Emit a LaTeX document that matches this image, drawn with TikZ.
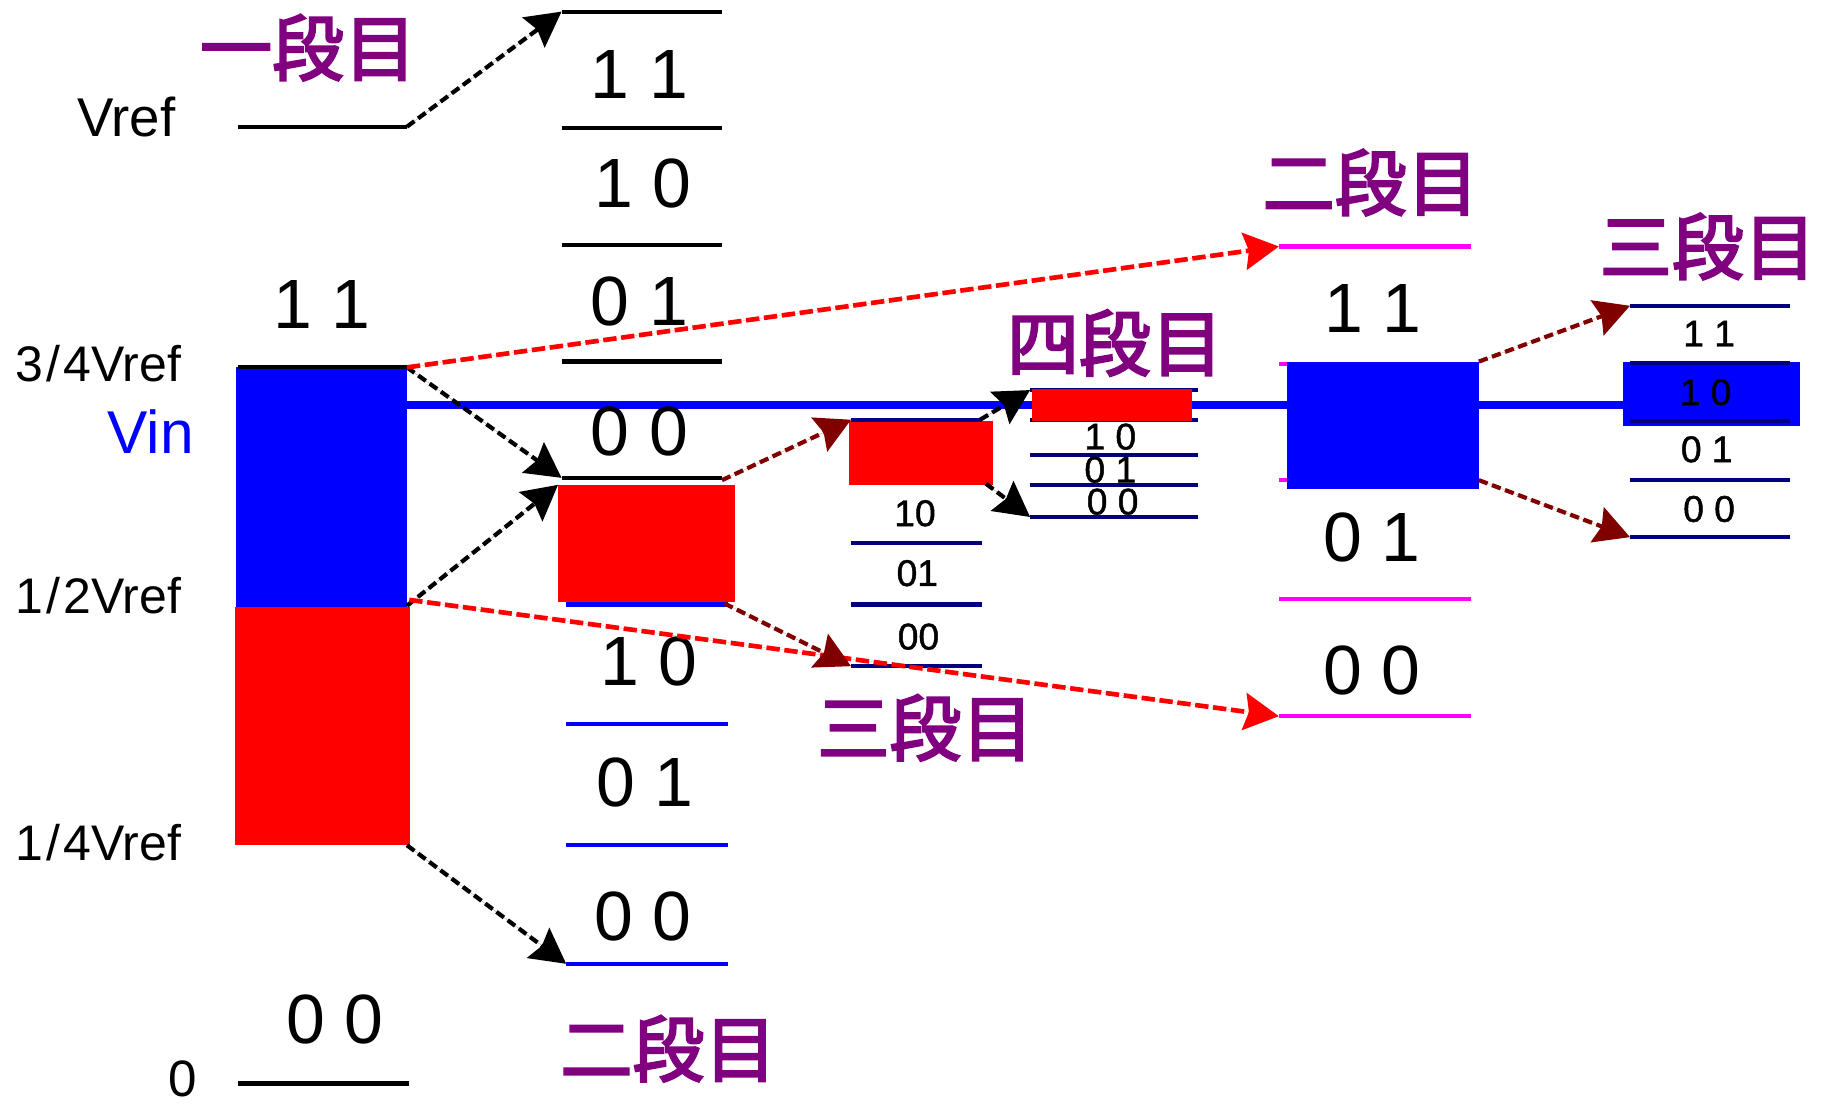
\documentclass[tikz,border=0pt]{standalone}
\usepackage{fontspec}
\setmainfont{Liberation Sans}
\newfontfamily\cjk[FakeBold=3]{Noto Sans CJK JP}
\newfontfamily\digitfont[FakeBold=1.2]{Liberation Sans}
\usetikzlibrary{arrows.meta}

\definecolor{vblue}{RGB}{0,0,255}
\definecolor{vred}{RGB}{255,0,0}
\definecolor{darkarrow}{RGB}{128,0,0}
\definecolor{navyline}{RGB}{0,0,128}
\definecolor{magline}{RGB}{255,0,255}
\definecolor{stagepurple}{RGB}{128,0,128}

\tikzset{
  lvl/.style={line width=3.6pt},
  blk/.style={lvl, draw=black},
  nav/.style={lvl, draw=navyline},
  mag/.style={lvl, draw=magline},
  blu/.style={lvl, draw=vblue},
  box/.style={draw=none, inner sep=0pt, outer sep=0pt, anchor=north west},
  bluebox/.style={box, fill=vblue},
  redbox/.style={box, fill=vred},
  conn/.style={line width=3.6pt, dash pattern=on 8pt off 4pt,
    -{Stealth[length=30pt, width=32pt, inset=4pt]}},
  kconn/.style={conn, draw=black, fill=black},
  rconn/.style={conn, line width=4pt, dash pattern=on 11.5pt off 4pt, draw=vred, fill=vred},
  mconn/.style={conn, draw=darkarrow, fill=darkarrow},
  big/.style={inner sep=0pt, font=\fontsize{60}{60}\selectfont},
  mid/.style={inner sep=0pt, font=\fontsize{44}{44}\selectfont},
  small/.style={inner sep=0pt, font=\digitfont\fontsize{32}{32}\selectfont},
  stage/.style={inner sep=0pt, text=stagepurple, font=\cjk\fontsize{62}{62}\selectfont},
}

\begin{document}
\begin{tikzpicture}[x=1pt, y=-1pt]
\useasboundingbox (0,0) rectangle (1568,950);
\fill[white] (0,0) rectangle (1568,950);

% ---- input voltage line (behind everything) ----
\coordinate (vinS) at (350,348);
\coordinate (vinE) at (1398,348);
\draw[vblue, line width=6.8pt] (vinS) -- (vinE);

% ---- stage-four levels and stage-two (right) levels, under their boxes ----
\foreach \y/\n in {335.5/a, 361/b, 391.4/c, 417/d, 444.7/e}
  \draw[nav] (886,\y) coordinate (d\n L) -- (1030,\y) coordinate (d\n R);
\foreach \y/\n in {212/a, 313/b, 413/c, 515/d, 616/e}
  \draw[mag] (1100,\y) coordinate (e\n L) -- (1265,\y) coordinate (e\n R);

% ---- boxes ----
\node[bluebox, minimum width=147pt, minimum height=206pt] (c1b) at (203,316) {};
\node[redbox,  minimum width=151pt, minimum height=205pt] (c1r) at (202,522) {};
\node[redbox,  minimum width=152pt, minimum height=101pt] (c2r) at (480,417) {};
\node[redbox,  minimum width=124pt, minimum height=55pt]  (c3r) at (730,362) {};
\node[redbox,  minimum width=137pt, minimum height=27pt]  (c4r) at (888,335) {};
\node[bluebox, minimum width=165pt, minimum height=110pt] (c5b) at (1107,311) {};
\node[bluebox, minimum width=152pt, minimum height=55pt]  (c6b) at (1396,311) {};

% ---- stage-one levels ----
\draw[blk] (205,109) coordinate (vrefL) -- (350,109) coordinate (vrefR);
\draw[blk] (205,316) coordinate (tqL) -- (350,316) coordinate (tqR);
\draw[blk] (205,932) coordinate (zeroL) -- (352,932) coordinate (zeroR);

% ---- first column of two-bit levels ----
\foreach \y/\n in {10/a, 110/b, 211/c, 311/d, 411/e}
  \draw[blk] (483,\y) coordinate (b\n L) -- (621,\y) coordinate (b\n R);
\foreach \y/\n in {520/f, 623/g, 727/h, 829/i}
  \draw[blu] (487,\y) coordinate (b\n L) -- (626,\y) coordinate (b\n R);

% ---- stage-three levels ----
\foreach \y/\n in {361/a, 467/b, 520/c, 573/d}
  \draw[nav] (732,\y) coordinate (c\n L) -- (845,\y) coordinate (c\n R);

% ---- last stage levels, over the box ----
\foreach \y/\n in {263/a, 312.5/b, 362/c, 413/d, 462/e}
  \draw[nav] (1402,\y) coordinate (f\n L) -- (1540,\y) coordinate (f\n R);

% ---- left labels ----
\newcommand\slashsep{\kern2.5pt/\kern2.5pt}
\node[mid, anchor=base east, font=\fontsize{47}{47}\selectfont] (tVref) at (151,117.6) {Vref};
\node[mid, anchor=base east, font=\fontsize{43}{43}\selectfont] (t34) at (156,328) {3\slashsep 4Vref};
\node[mid, anchor=base east, text=vblue, font=\fontsize{52}{52}\selectfont] (tVin) at (167,390) {Vin};
\node[mid, anchor=base east, font=\fontsize{43}{43}\selectfont] (t12) at (156,528) {1\slashsep 2Vref};
\node[mid, anchor=base east, font=\fontsize{43}{43}\selectfont] (t14) at (156,740) {1\slashsep 4Vref};
\node[mid, anchor=base east] (t0) at (170,943) {0};

\node[big] (l1a) at (277,262) {1 1};
\node[big] (l1b) at (288,877) {0 0};

\node[big] (l2a) at (550,64) {1 1};
\node[big] (l2b) at (553,158) {1 0};
\node[big] (l2c) at (550,259) {0 1};
\node[big] (l2d) at (550,371) {0 0};
\node[big] (l2e) at (558,569) {1 0};
\node[big] (l2f) at (555,673) {0 1};
\node[big] (l2g) at (553,788) {0 0};

\node[small] (l3a) at (787,441.5) {10};
\node[small] (l3b) at (789,493) {01};
\node[small] (l3c) at (790,547.6) {00};

\node[small] (l4a) at (955,375.6) {1 0};
\node[small] (l4b) at (955,404) {0 1};
\node[small] (l4c) at (957,431.5) {0 0};

\node[big] (l5a) at (1181,265) {1 1};
\node[big] (l5b) at (1180,462) {0 1};
\node[big] (l5c) at (1180,577) {0 0};

\node[small] (l6a) at (1470,287) {1 1};
\node[small] (l6b) at (1467,337.4) {1 0};
\node[small] (l6c) at (1468,386.5) {0 1};
\node[small] (l6d) at (1470,437.8) {0 0};

% ---- stage titles ----
\node[stage] (s1) at (265,41) {一段目};
\node[stage] (s2) at (575,902) {二段目};
\node[stage] (s3) at (796,626) {三段目};
\node[stage] (s4) at (959,295) {四段目};
\node[stage] (s5) at (1179,157) {二段目};
\node[stage] (s6) at (1469,212) {三段目};

% ---- connectors ----
\coordinate (half) at (352,516);
\coordinate (c1bR) at (350,521);
\coordinate (c1rR) at (350,727);
\draw[kconn] (vrefR) -- (baL);
\draw[kconn] (tqR) -- (beL);
\draw[kconn] (c1bR) -- (c2r.north west);
\draw[kconn] (c1rR) -- (biL);
\draw[rconn] (tqR) -- (eaL);
\draw[rconn] (half) -- (eeL);

\coordinate (c2tr) at (621,413);
\coordinate (c2br) at (623,519);
\draw[mconn] (c2tr) -- (caL);
\draw[mconn] (c2br) -- (cdL);

\coordinate (c3tr) at (843,361);
\coordinate (c3br) at (848,416);
\draw[kconn] (c3tr) -- (daL);
\draw[kconn] (c3br) -- (deL);

\draw[mconn] (c5b.north east) -- (faL);
\draw[mconn] ([yshift=8pt]c5b.south east) -- (feL);
\end{tikzpicture}
\end{document}
